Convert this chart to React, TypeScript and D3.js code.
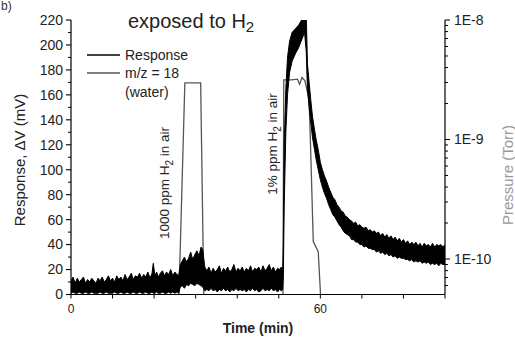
import React from "react";
import * as d3 from "d3";

// ---- Data ----
// Response (black, noisy band): time (min), lower and upper envelope (mV)
const RESP_T = [
  0, 0.5, 1, 1.5, 2, 2.5, 3, 3.5, 4, 4.5, 5, 5.5, 6, 6.5, 7, 7.5, 8, 8.5, 9, 9.5, 10, 10.5, 11, 11.5, 12, 12.5,
  13, 13.5, 14, 14.5, 15, 15.5, 16, 16.5, 17, 17.5, 18, 18.5, 19, 19.5, 19.8, 20.2, 20.6, 21, 21.5, 22, 22.5, 23,
  23.5, 24, 24.5, 25, 25.5, 25.9,
  26.3, 26.8, 27.3, 27.8, 28.3, 28.8, 29.3, 29.8, 30.3, 30.8, 31.3, 31.7, 32.2,
  32.7, 33.2, 33.7, 34.2, 34.7, 35.2, 35.7, 36.2, 36.7, 37.2, 37.7, 38.2, 38.7, 39.2, 39.7, 40.2, 40.7, 41.2, 41.7,
  42.2, 42.7, 43.2, 43.7, 44.2, 44.7, 45.2, 45.7, 46.2, 46.7, 47.2, 47.7, 48.2, 48.7, 49.2, 49.7, 50.2, 50.6, 50.95,
  51.1, 51.3, 51.7, 52.1, 52.6, 53.2, 54, 54.8, 55.5, 56.2, 56.6, 56.9,
  57.3, 57.7, 58.1, 58.6, 59, 59.5, 60, 60.5, 61, 61.5, 62, 62.5, 63, 63.5, 64, 64.5, 65, 65.5, 66, 66.5, 67, 67.5,
  68, 68.5, 69, 69.5, 70, 70.5, 71, 71.5, 72, 72.5, 73, 73.5, 74, 74.5, 75, 75.5, 76, 76.5, 77, 77.5, 78, 78.5, 79,
  79.5, 80, 80.5, 81, 81.5, 82, 82.5, 83, 83.5, 84, 84.5, 85, 85.5, 86, 86.5, 87, 87.5, 88, 88.5, 89, 89.5, 90,
];
const RESP_LOW = [
  1, 2, 1, 1, 2, 1, 1, 2, 1, 1, 2, 1, 1, 1, 2, 1, 1, 2, 1, 1, 1, 2, 1, 1, 2, 1,
  1, 2, 1, 1, 2, 1, 1, 2, 1, 1, 2, 1, 1, 2, 1, 1, 2, 1, 1, 2, 1, 1,
  2, 1, 2, 1, 2, 1,
  6, 7, 5, 8, 7, 9, 8, 7, 9, 8, 7, 6, 3,
  4, 3, 5, 3, 4, 2, 4, 3, 5, 3, 4, 2, 4, 3, 5, 3, 4, 3, 4,
  2, 4, 3, 5, 3, 4, 2, 3, 5, 3, 4, 3, 5, 3, 4, 2, 4, 3, 4,
  15, 70, 130, 160, 178, 187, 193, 198, 204, 210, 195, 165,
  150, 138, 126, 116, 108, 100, 92, 86, 81, 77, 72, 68, 64, 62, 59, 56, 54, 51, 49, 48, 47, 44,
  44, 42, 42, 40, 40, 38, 39, 37, 37, 36, 36, 34, 35, 33, 34, 32, 33, 31, 32, 30, 31, 29, 30, 29, 29,
  28, 28, 27, 28, 26, 27, 26, 27, 25, 26, 25, 26, 24, 25, 24, 25, 23, 25, 24, 24, 23, 24,
];
const RESP_HIGH = [
  11, 14, 9, 13, 10, 12, 14, 9, 12, 10, 13, 11, 9, 13, 11, 14, 10, 12, 15, 11, 13, 10, 15, 12, 14, 11,
  16, 12, 14, 17, 12, 15, 14, 17, 13, 16, 14, 18, 13, 17, 25, 15, 18, 14, 17, 19, 15, 18,
  16, 20, 15, 18, 16, 15,
  24, 27, 30, 26, 29, 34, 28, 32, 35, 31, 38, 36, 22,
  19, 22, 17, 21, 18, 20, 23, 17, 21, 19, 22, 18, 20, 24, 18, 21, 19, 22, 18,
  21, 19, 23, 18, 21, 20, 22, 18, 23, 19, 21, 24, 19, 22, 18, 21, 20, 22, 19,
  40, 120, 165, 190, 203, 210, 213, 216, 220, 226, 226, 185,
  170, 156, 143, 132, 124, 116, 106, 100, 95, 91, 86, 82, 78, 76, 72, 70, 67, 66, 63, 62, 60, 59,
  57, 58, 55, 56, 54, 53, 54, 51, 52, 50, 51, 49, 50, 47, 49, 46, 48, 45, 47, 44, 46, 43, 45,
  42, 44, 41, 43, 40, 42, 40, 42, 39, 41, 38, 41, 39, 40, 38, 41, 38, 40, 39, 40, 38, 40,
];

// m/z = 18 (water) pressure trace (Torr), right log axis
const WATER_T = [0, 25.9, 27.4, 31.2, 32.0, 51.0, 51.2, 53, 54.5, 55.0, 55.6, 56.3, 57.3, 57.6, 58.3, 59.5, 60.2, 90];
const WATER_P = [
  4e-11, 4e-11, 2.98e-9, 2.98e-9, 4e-11, 4e-11, 3.16e-9, 3.16e-9, 3.2e-9, 2.9e-9, 3.3e-9, 3.1e-9, 2.15e-9, 1.0e-9,
  1.4e-10, 1.15e-10, 4e-11, 4e-11,
];

const LEFT_TICKS = [0, 20, 40, 60, 80, 100, 120, 140, 160, 180, 200, 220];
const BOTTOM_TICK_LABELS = [0, 60];
const RIGHT_TICK_LABELS = [1e-10, 1e-9, 1e-8];
const RIGHT_TICK_TEXT = ["1E-10", "1E-9", "1E-8"];

const FONT = "'Liberation Sans', Arial, Helvetica, sans-serif";

export default function App() {
  const W = 515;
  const H = 337;
  const L = 71;
  const R = 445;
  const T = 20;
  const B = 294.5;

  const x = d3.scaleLinear().domain([0, 90]).range([L, R]);
  const yL = d3.scaleLinear().domain([0, 220]).range([B, T]);
  const yR = d3.scaleLog().domain([Math.pow(10, -10.297), 1e-8]).range([B, T]);

  const respIdx = RESP_T.map((_, i) => i);
  const area = d3
    .area<number>()
    .x((i) => x(RESP_T[i]))
    .y0((i) => yL(RESP_LOW[i]))
    .y1((i) => yL(RESP_HIGH[i]));
  const waterLine = d3
    .line<number>()
    .x((i) => x(WATER_T[i]))
    .y((i) => yR(WATER_P[i]));

  const leftMinor = d3.range(10, 220, 20);
  const bottomTicks = d3.range(0, 91, 10);
  const rightTicks = yR.ticks(10);

  const textColor = "#222";

  return (
    <svg
      width={W}
      height={H}
      style={{ position: "absolute", left: 0, top: 0, background: "#fff" }}
      fontFamily={FONT}
    >
      <defs>
        <clipPath id="plotclip">
          <rect x={L} y={T} width={R - L} height={B - T} />
        </clipPath>
      </defs>
      <rect x={0} y={0} width={W} height={H} fill="#fff" />

      {/* panel label */}
      <text x={1} y={10} fontSize={12} fill="#333">b)</text>

      {/* title */}
      <text x={128} y={28} fontSize={20} fill={textColor}>
        exposed to H<tspan dy={4} fontSize={15}>2</tspan>
      </text>

      {/* data */}
      <g clipPath="url(#plotclip)">
        <path
          d={waterLine(WATER_T.map((_, i) => i)) || ""}
          fill="none"
          stroke="#555"
          strokeWidth={1.3}
        />
        <path
          d={area(respIdx) || ""}
          fill="#000"
          stroke="#000"
          strokeWidth={1}
          strokeLinejoin="miter"
        />
      </g>

      {/* left axis */}
      <line x1={L} x2={L} y1={T} y2={B} stroke="#000" strokeWidth={1.2} />
      {LEFT_TICKS.map((v) => (
        <g key={"l" + v}>
          <line x1={L - 5} x2={L} y1={yL(v)} y2={yL(v)} stroke="#000" strokeWidth={1.1} />
          <text x={L - 8} y={yL(v)} dy="0.35em" textAnchor="end" fontSize={14} fill={textColor}>
            {v}
          </text>
        </g>
      ))}
      {leftMinor.map((v) => (
        <line key={"lm" + v} x1={L - 3} x2={L} y1={yL(v)} y2={yL(v)} stroke="#000" strokeWidth={1} />
      ))}

      {/* bottom axis */}
      <line x1={L} x2={R} y1={B} y2={B} stroke="#000" strokeWidth={1.2} />
      {bottomTicks.map((v) => (
        <line key={"b" + v} x1={x(v)} x2={x(v)} y1={B} y2={B + 4} stroke="#000" strokeWidth={1} />
      ))}
      {BOTTOM_TICK_LABELS.map((v) => (
        <text key={"bt" + v} x={x(v)} y={313} textAnchor="middle" fontSize={12} fill={textColor}>
          {v}
        </text>
      ))}
      <text x={(L + R) / 2} y={333} textAnchor="middle" fontSize={14} fontWeight="bold" fill={textColor}>
        Time (min)
      </text>

      {/* right axis */}
      <line x1={R} x2={R} y1={T} y2={B} stroke="#000" strokeWidth={1.2} />
      {rightTicks.map((v, i) => {
        const major = RIGHT_TICK_LABELS.some((m) => Math.abs(m - v) / m < 1e-6);
        return (
          <line
            key={"r" + i}
            x1={R}
            x2={R + (major ? 5 : 3)}
            y1={yR(v)}
            y2={yR(v)}
            stroke="#000"
            strokeWidth={1}
          />
        );
      })}
      {RIGHT_TICK_LABELS.map((v, i) => (
        <text key={"rt" + i} x={R + 9} y={yR(v)} dy="0.35em" fontSize={14} fill={textColor}>
          {RIGHT_TICK_TEXT[i]}
        </text>
      ))}

      {/* axis titles */}
      <text
        transform={`translate(25,160) rotate(-90)`}
        textAnchor="middle"
        fontSize={15}
        fill={textColor}
      >
        Response, ΔV (mV)
      </text>
      <text
        transform={`translate(513,175) rotate(-90)`}
        textAnchor="middle"
        fontSize={15}
        fill="#999"
      >
        Pressure (Torr)
      </text>

      {/* legend */}
      <line x1={87} x2={120} y1={55} y2={55} stroke="#000" strokeWidth={1.3} />
      <text x={125} y={60} fontSize={14} fill={textColor}>Response</text>
      <line x1={87} x2={120} y1={73} y2={73} stroke="#555" strokeWidth={1.3} />
      <text x={125} y={78} fontSize={14} fill={textColor}>m/z = 18</text>
      <text x={125} y={97} fontSize={14} fill={textColor}>(water)</text>

      {/* annotations */}
      <text transform={`translate(169,183) rotate(-90)`} textAnchor="middle" fontSize={13.5} fill={textColor}>
        1000 ppm H<tspan dy={4} fontSize={10}>2</tspan><tspan dy={-4}> in air</tspan>
      </text>
      <text transform={`translate(277,144) rotate(-90)`} textAnchor="middle" fontSize={13.5} fill={textColor}>
        1% ppm H<tspan dy={4} fontSize={10}>2</tspan><tspan dy={-4}> in air</tspan>
      </text>
    </svg>
  );
}
